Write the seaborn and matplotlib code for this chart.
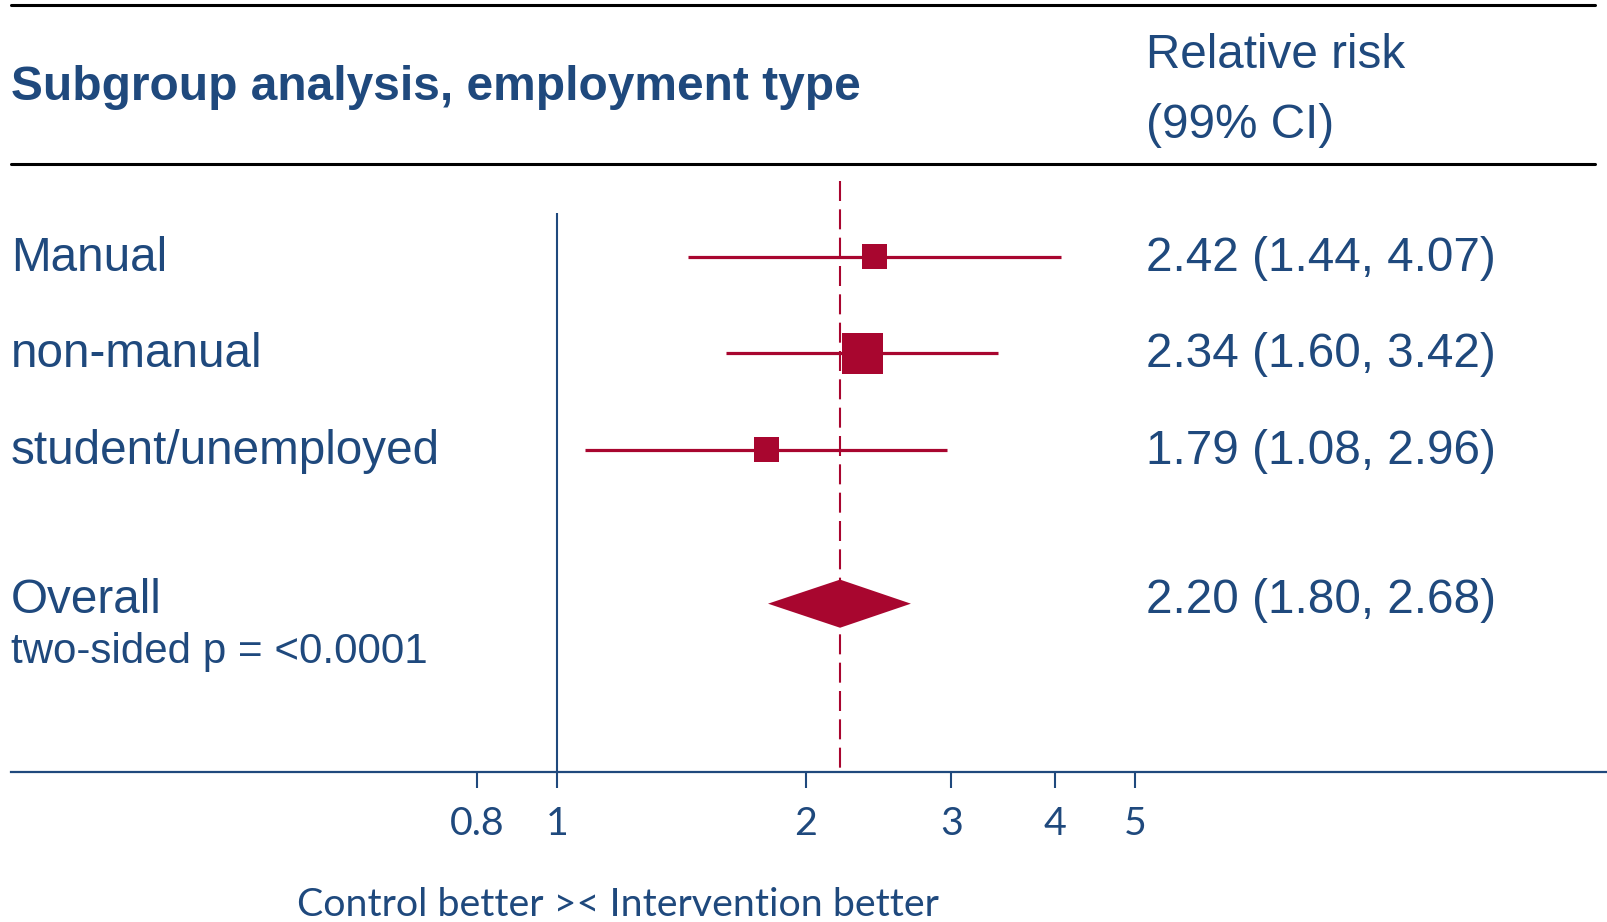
import numpy as np
import pandas as pd
import matplotlib
matplotlib.use("Agg")
import matplotlib.pyplot as plt
from matplotlib.lines import Line2D
from matplotlib.patches import Polygon
from matplotlib.ticker import NullLocator
import seaborn as sns

# ---- data -------------------------------------------------------------
subgroups = ["Manual", "non-manual", "student/unemployed"]
rr = [2.42, 2.34, 1.79]
ci_low = [1.44, 1.60, 1.08]
ci_high = [4.07, 3.42, 2.96]

overall_label = "Overall"
overall_rr = 2.20
overall_low = 1.80
overall_high = 2.68
p_value_text = "two-sided p = <0.0001"

null_value = 1
x_ticks = [0.8, 1, 2, 3, 4, 5]
x_tick_labels = ["0.8", "1", "2", "3", "4", "5"]

title = "Subgroup analysis, employment type"
header = ["Relative risk", "(99% CI)"]
x_caption = "Control better >< Intervention better"

# ---- style ------------------------------------------------------------
BLUE = "#1F497D"
RED = "#A8062F"
W, H, DPI = 1608, 922, 100
box_side_pt = [18, 29.5, 18]      # square marker side for each subgroup
TEXT_PT = 34.3
AXIS_TEXT_PT = 28.4

sns.set_theme(style="white")
plt.rcParams["font.family"] = ["Liberation Sans", "DejaVu Sans"]

df = pd.DataFrame({"subgroup": subgroups, "rr": rr, "lo": ci_low,
                   "hi": ci_high, "row": np.arange(len(subgroups), dtype=float)})
overall_row = 3.6

# layout: pixel geometry of the plotting area
ROW0_PX, ROW_STEP_PX = 257, 96.3          # centre of first row, spacing
X0_PX, K_PX = 557, 359                   # pixel of value 1, pixels per ln unit
AX_LEFT_PX, AX_BOTTOM_PX = 11, 772
RIGHT_COL_PX = 1146


def row_px(r):
    return ROW0_PX + ROW_STEP_PX * r


def px_row(p):
    return (p - ROW0_PX) / ROW_STEP_PX


def fx(px):
    return px / W


def fy(py):
    return 1 - py / H


fig = plt.figure(figsize=(W / DPI, H / DPI), dpi=DPI)
fig.patch.set_facecolor("white")
ax = fig.add_axes([fx(AX_LEFT_PX), fy(AX_BOTTOM_PX), 1 - fx(AX_LEFT_PX), AX_BOTTOM_PX / H])
ax.set_facecolor("white")
ax.set_xscale("log")
ax.set_xlim(np.exp((AX_LEFT_PX - X0_PX) / K_PX), np.exp((W - X0_PX) / K_PX))
ax.set_ylim(px_row(AX_BOTTOM_PX), px_row(0))

# reference lines
ax.plot([null_value, null_value], [px_row(213), px_row(AX_BOTTOM_PX)],
        color=BLUE, lw=1.5, zorder=1, solid_capstyle="butt")
ax.plot([overall_rr, overall_rr], [px_row(181), px_row(AX_BOTTOM_PX)],
        color=RED, lw=1.5, ls=(0, (9.6, 4.0)), zorder=1)

# confidence intervals and boxes
ax.hlines(df["row"], df["lo"], df["hi"], color=RED, lw=2.3, zorder=2)
sns.scatterplot(data=df, x="rr", y="row", marker="s",
                s=np.array(box_side_pt) ** 2, color=RED, linewidth=0,
                legend=False, ax=ax, zorder=3)

# pooled estimate diamond
half_h = 0.25
diamond = Polygon([(overall_low, overall_row), (overall_rr, overall_row - half_h),
                   (overall_high, overall_row), (overall_rr, overall_row + half_h)],
                  closed=True, facecolor=RED, edgecolor="none", zorder=3)
ax.add_patch(diamond)

# axis styling
for side in ("top", "right", "left"):
    ax.spines[side].set_visible(False)
ax.spines["bottom"].set_color(BLUE)
ax.spines["bottom"].set_linewidth(1.6)
ax.set_xticks(x_ticks, labels=x_tick_labels, fontfamily="Lato", fontsize=AXIS_TEXT_PT)
ax.xaxis.set_minor_locator(NullLocator())
ax.set_yticks([])
ax.tick_params(axis="x", direction="out", length=11.5, width=1.5, color=BLUE,
               labelcolor=BLUE, pad=13, bottom=True)
ax.set_xlabel("")
ax.set_ylabel("")
ax.grid(False)

# header rules
for y in (5, 164):
    fig.add_artist(Line2D([fx(11), fx(1595)], [fy(y), fy(y)], color="black",
                          lw=2.2, transform=fig.transFigure))

# header texts
fig.text(fx(11), fy(100), title, fontsize=34.5, fontweight="bold", color=BLUE,
         ha="left", va="baseline")
fig.text(fx(RIGHT_COL_PX), fy(68), header[0], fontsize=TEXT_PT, color=BLUE,
         ha="left", va="baseline")
fig.text(fx(RIGHT_COL_PX), fy(138), header[1], fontsize=TEXT_PT, color=BLUE,
         ha="left", va="baseline")

# row labels and estimates
for r, name, est, lo, hi in zip(df["row"], subgroups, rr, ci_low, ci_high):
    base = row_px(r) + 14
    fig.text(fx(11), fy(base), name, fontsize=TEXT_PT, color=BLUE,
             ha="left", va="baseline")
    fig.text(fx(RIGHT_COL_PX), fy(base), f"{est:.2f} ({lo:.2f}, {hi:.2f})",
             fontsize=TEXT_PT, color=BLUE, ha="left", va="baseline")

base = row_px(overall_row) + 9
fig.text(fx(11), fy(base), overall_label, fontsize=TEXT_PT, color=BLUE,
         ha="left", va="baseline")
fig.text(fx(RIGHT_COL_PX), fy(base),
         f"{overall_rr:.2f} ({overall_low:.2f}, {overall_high:.2f})",
         fontsize=TEXT_PT, color=BLUE, ha="left", va="baseline")
fig.text(fx(11), fy(base + 50), p_value_text, fontsize=30.3, color=BLUE,
         ha="left", va="baseline")

# direction caption below the axis
fig.text(fx(618), fy(916), x_caption, fontsize=AXIS_TEXT_PT, fontfamily="Lato",
         color=BLUE, ha="center", va="baseline")

fig.savefig("out.png", dpi=DPI, facecolor="white")
